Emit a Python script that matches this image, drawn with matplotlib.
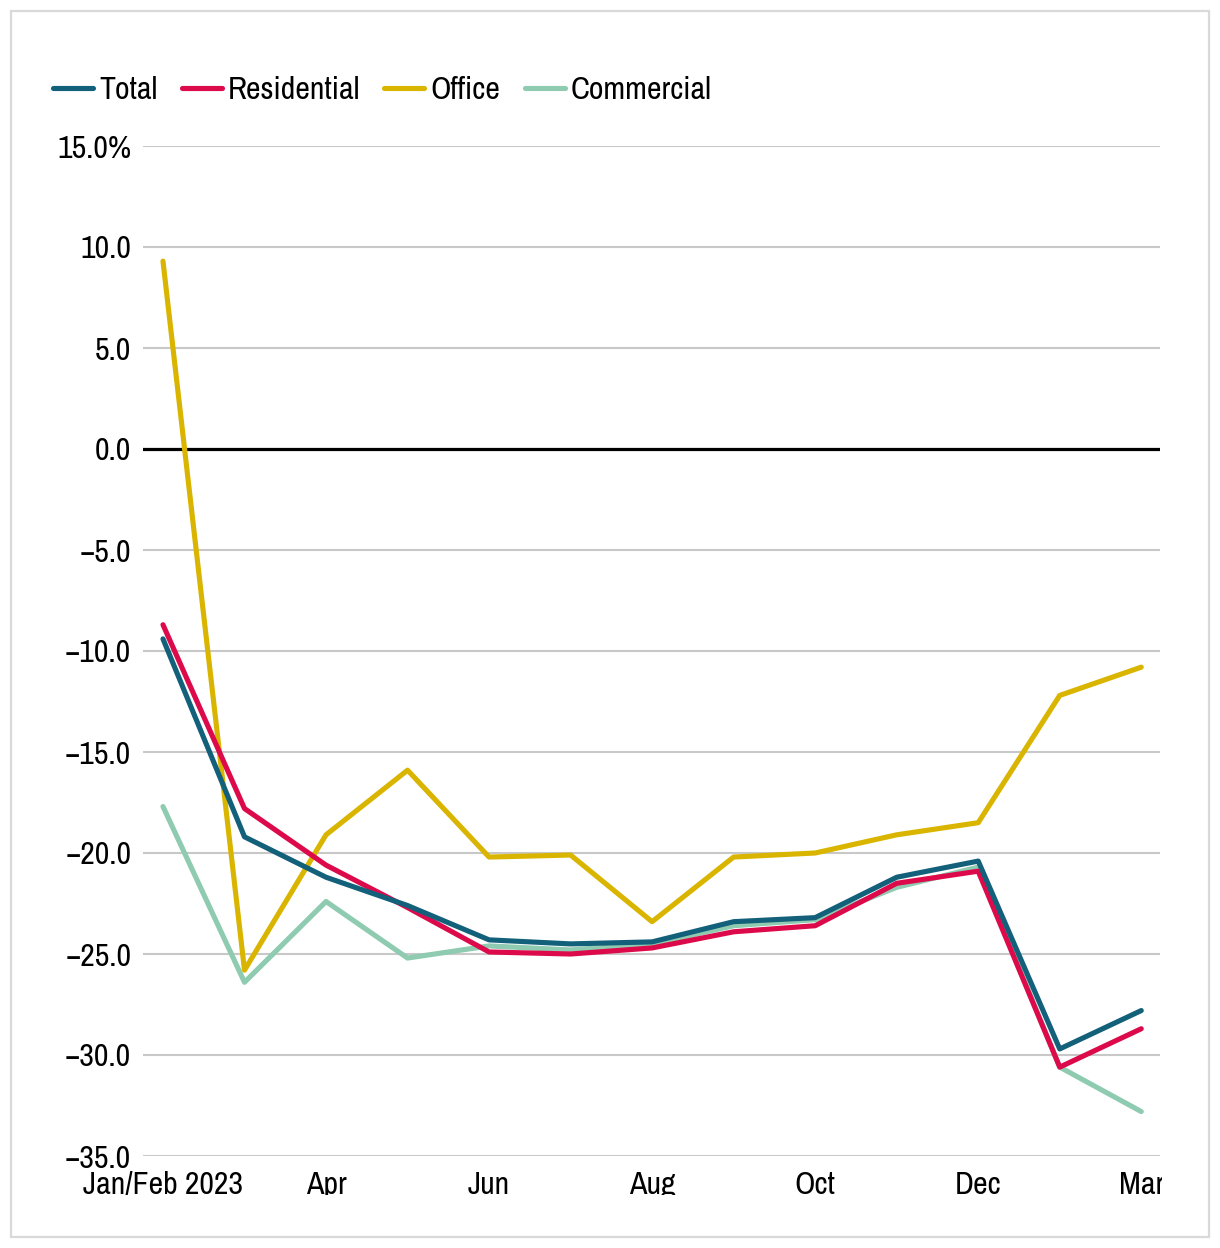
import matplotlib
matplotlib.use("Agg")
from matplotlib import pyplot as plt
from matplotlib import font_manager as fm
from matplotlib.patches import Rectangle
from matplotlib.transforms import Bbox, TransformedBbox

# pick a narrow face if one is installed
narrow = [f.name for f in fm.fontManager.ttflist if "Narrow" in f.name or "Condensed" in f.name]
if narrow:
    plt.rcParams['font.family'] = [narrow[0], 'DejaVu Sans']
else:
    plt.rcParams['font.family'] = ['DejaVu Sans']

months = ["Jan/Feb 2023", "Mar", "Apr", "May", "Jun", "Jul", "Aug",
          "Sep", "Oct", "Nov", "Dec", "Jan/Feb", "Mar"]
shown_labels = ["Jan/Feb 2023", "", "Apr", "", "Jun", "", "Aug",
                "", "Oct", "", "Dec", "", "Mar"]

total = [-9.4, -19.2, -21.2, -22.6, -24.3, -24.5, -24.4, -23.4, -23.2, -21.2, -20.4, -29.7, -27.8]
residential = [-8.7, -17.8, -20.6, -22.7, -24.9, -25.0, -24.7, -23.9, -23.6, -21.5, -20.9, -30.6, -28.7]
office = [9.3, -25.8, -19.1, -15.9, -20.2, -20.1, -23.4, -20.2, -20.0, -19.1, -18.5, -12.2, -10.8]
commercial = [-17.7, -26.4, -22.4, -25.2, -24.6, -24.8, -24.5, -23.6, -23.3, -21.7, -20.7, -30.6, -32.8]

yticks = [15, 10, 5, 0, -5, -10, -15, -20, -25, -30, -35]
ytick_labels = ["15.0%", "10.0", "5.0", "0.0", "\u22125.0", "\u221210.0", "\u221215.0",
                "\u221220.0", "\u221225.0", "\u221230.0", "\u221235.0"]

c_total = "#13607a"
c_res = "#dd0a4b"
c_office = "#dab500"
c_comm = "#8ecbb0"

fs = 23

fig = plt.figure(figsize=(12.2, 12.48), dpi=100)
ax = fig.add_axes([143 / 1220, 1 - 1156 / 1248, (1160 - 143) / 1220, (1156 - 146) / 1248])

x = list(range(len(months)))
lw = 3.7
l_comm, = ax.plot(x, commercial, color=c_comm, lw=lw, label="Commercial", zorder=3, solid_capstyle="round")
l_office, = ax.plot(x, office, color=c_office, lw=lw, label="Office", zorder=4, solid_capstyle="round")
l_res, = ax.plot(x, residential, color=c_res, lw=lw, label="Residential", zorder=5, solid_capstyle="round")
l_total, = ax.plot(x, total, color=c_total, lw=lw, label="Total", zorder=6, solid_capstyle="round")

ax.axhline(0, color="black", lw=2.3, zorder=2.5)

ax.set_xlim(-0.245, 12.23)
ax.set_ylim(-35, 15)
ax.set_yticks(yticks)
ax.set_yticklabels(ytick_labels)
ax.set_xticks(x)
ax.set_xticklabels(shown_labels)
ax.grid(axis="y", color="#c8c8c8", lw=1.5, zorder=1)
ax.set_axisbelow(True)
for s in ax.spines.values():
    s.set_visible(False)
ax.tick_params(axis="both", length=0, labelsize=fs, colors="black")
ax.tick_params(axis="y", pad=8.5)
ax.tick_params(axis="x", pad=10.5)

# labels are clipped at the bottom and right as in the source
clip = TransformedBbox(Bbox([[0, 1 - 1195 / 1248], [1162 / 1220, 1]]), fig.transFigure)
for lab in ax.get_xticklabels():
    lab.set_clip_box(clip)
    lab.set_clip_on(True)

fig.legend(handles=[l_total, l_res, l_office, l_comm], loc="center left",
           bbox_to_anchor=(53 / 1220, 1 - 90 / 1248), ncol=4, frameon=False,
           fontsize=fs, handlelength=1.25, handletextpad=0.2, columnspacing=0.75,
           borderpad=0, borderaxespad=0)

fig.patches.append(Rectangle((11 / 1220, 11 / 1248), 1198 / 1220, 1226 / 1248,
                             transform=fig.transFigure, fill=False,
                             edgecolor="#d9d9d9", lw=1.6))

fig.savefig("out.png", dpi=100)
